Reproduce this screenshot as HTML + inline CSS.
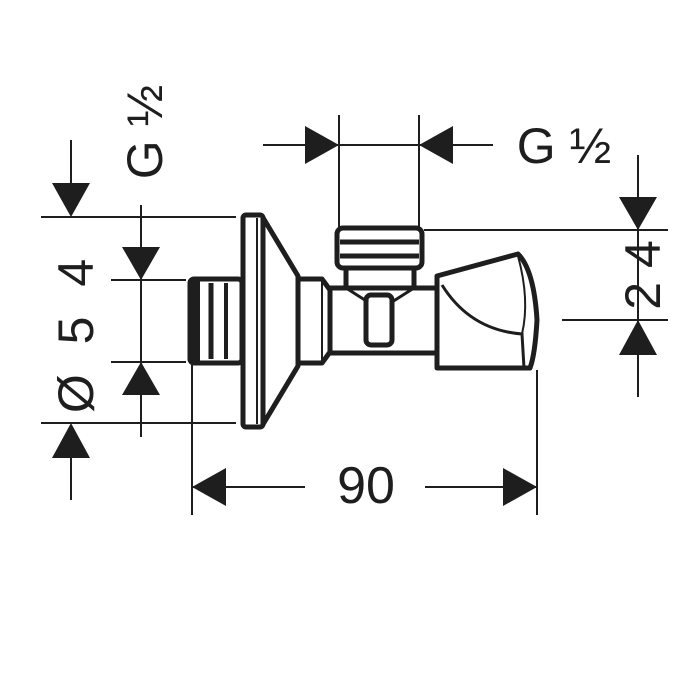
<!DOCTYPE html>
<html><head><meta charset="utf-8"><style>
html,body{margin:0;padding:0;background:#fff;}
svg{display:block;}
text{font-family:"Liberation Sans",sans-serif;fill:#1e1e1e;}
</style></head><body>
<svg width="689" height="677" viewBox="0 0 689 677" xmlns="http://www.w3.org/2000/svg">
<g stroke="#1e1e1e" stroke-width="2" fill="none">
  <line x1="71" y1="140" x2="71" y2="200"/>
  <line x1="71" y1="440" x2="71" y2="500"/>
  <line x1="41" y1="217" x2="236" y2="217"/>
  <line x1="41" y1="423" x2="236" y2="423"/>
  <line x1="141" y1="205" x2="141" y2="437"/>
  <line x1="111" y1="280" x2="186" y2="280"/>
  <line x1="111" y1="362" x2="186" y2="362"/>
  <line x1="192" y1="365" x2="192" y2="515"/>
  <line x1="263" y1="145" x2="493" y2="145"/>
  <line x1="339" y1="115" x2="339" y2="228"/>
  <line x1="419" y1="115" x2="419" y2="228"/>
  <line x1="424" y1="230" x2="668" y2="230"/>
  <line x1="562" y1="320" x2="668" y2="320"/>
  <line x1="638" y1="155" x2="638" y2="397"/>
  <line x1="192" y1="487" x2="305" y2="487"/>
  <line x1="425" y1="487" x2="537" y2="487"/>
  <line x1="537" y1="370" x2="537" y2="515"/>
</g>
<g fill="#1e1e1e">
  <polygon points="52,183 90,183 71,217"/>
  <polygon points="52,458 90,458 71,423"/>
  <polygon points="122,247 160,247 141,280"/>
  <polygon points="122,395 160,395 141,362"/>
  <polygon points="305,126 305,164 339,145"/>
  <polygon points="453,126 453,164 419,145"/>
  <polygon points="619,197 657,197 638,230"/>
  <polygon points="619,355 657,355 638,320"/>
  <polygon points="226,468 226,506 192,487"/>
  <polygon points="503,468 503,506 537,487"/>
</g>
<g stroke="#1e1e1e" stroke-width="5" fill="#fff" stroke-linejoin="round">
  <rect x="190" y="279" width="52" height="84" rx="4"/>
  <path d="M262,216 L298,276 L298,366 L262,426 Z"/>
  <rect x="243" y="215" width="20" height="212" rx="3"/>
  <path d="M298,279 L322,279 L330,290 L330,352 L322,363 L298,363 Z"/>
  <rect x="330" y="288" width="108" height="65"/>
  <path d="M346,266 L346,288 L414,288 L414,266"/>
  <rect x="337" y="228" width="85" height="40" rx="6"/>
  <rect x="366" y="295" width="26" height="50" rx="5"/>
  <path d="M437,276 L518,254 Q534,270 537,320 Q535,355 530,368 L437,368 Z"/>
</g>
<g stroke="#1e1e1e" fill="none">
  <line x1="196" y1="281" x2="196" y2="361" stroke-width="8"/>
  <line x1="211" y1="283" x2="211" y2="359" stroke-width="5"/>
  <line x1="226" y1="283" x2="226" y2="359" stroke-width="4"/>
  <line x1="257" y1="218" x2="257" y2="424" stroke-width="2"/>
  <line x1="322" y1="281" x2="322" y2="361" stroke-width="2"/>
  <line x1="340" y1="242" x2="419" y2="242" stroke-width="5"/>
  <line x1="340" y1="256" x2="419" y2="256" stroke-width="5"/>
  <path d="M346,288 L368,302 M414,288 L392,302" stroke-width="3"/>
  <path d="M442,285 Q470,330 522,334 L524,368" stroke-width="3"/>
  <path d="M518,256 Q530,300 522,334" stroke-width="2"/>
</g>
<text transform="translate(93,332) rotate(-90)" font-size="50" text-anchor="middle" letter-spacing="8">Ø 5 4</text>
<text transform="translate(162,132) rotate(-90)" font-size="50" text-anchor="middle">G ½</text>
<text transform="translate(660,275) rotate(-90)" font-size="50" text-anchor="middle">2 4</text>
<text x="564" y="163" font-size="50" text-anchor="middle">G ½</text>
<text x="366" y="503" font-size="52" text-anchor="middle">90</text>
</svg>
</body></html>
